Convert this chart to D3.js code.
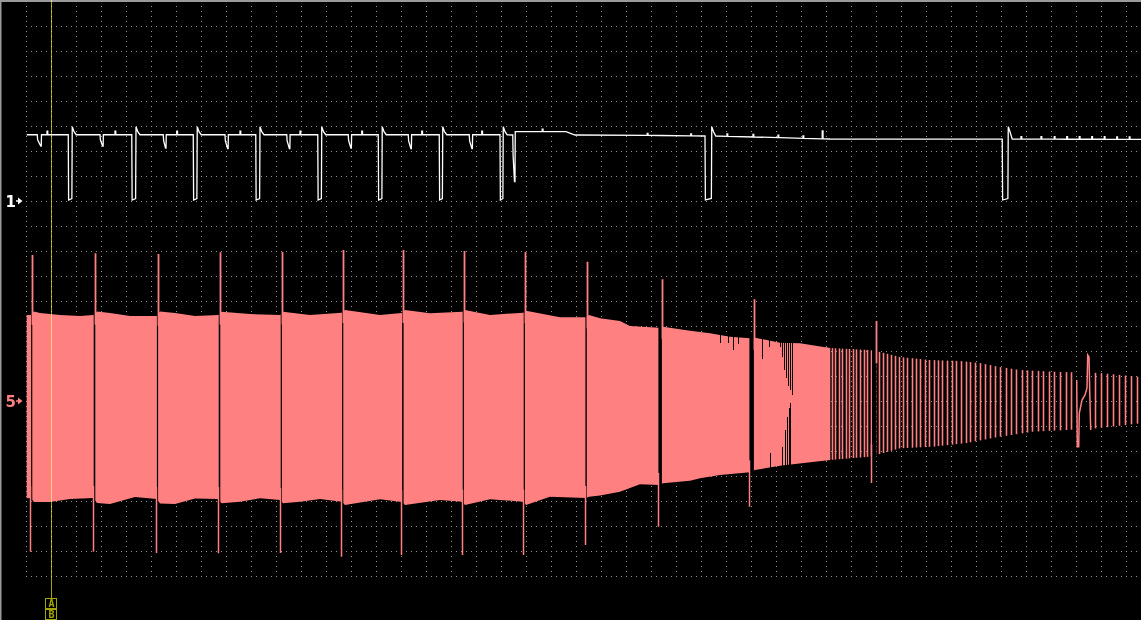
<!DOCTYPE html>
<html><head><meta charset="utf-8">
<script src="https://cdn.jsdelivr.net/npm/d3@7/dist/d3.min.js"></script>
<style>
html,body{margin:0;padding:0;background:#000;overflow:hidden;}
svg{display:block;}
</style></head>
<body>
<svg id="scope" width="1141" height="620"></svg>
<script>
// ================= DATA =================
const timebaseMsPerDiv = 20;
const recordMs = 892;
const verticalDivs = 23;
const ch1VoltsPerDiv = 5;
const ch5VoltsPerDiv = 20;
const ch1ZeroDiv = 15;
const ch5ZeroDiv = 7;
const channelLabels = ["1", "5"];

// ---- Channel 1 (white) ----
const ch1StartT = 0.56;
const ch1BaseT = [0, 381.8, 389.4, 391.4, 432, 439.2, 507.2, 543.2, 552, 603.2, 643.2, 892];
const ch1BaseV = [13.25, 13.25, 13.2, 13.86, 13.86, 13.2, 13.1, 13.0, 13.0, 12.66, 12.4, 12.34];
const ch1PulseFallT = [33.8, 84.6, 133.8, 183.8, 233.4, 281.8, 330.6, 379.2, 543.2, 781.0];
const ch1PulseRiseT = [37.0, 88.0, 137.0, 187.2, 236.6, 285.0, 333.4, 381.8, 548.6, 785.8];
const ch1PulseLowV = [0.2, 0.5];
const ch1OvershootV = 14.86;
const ch1DipT = [9.0, 59.2, 109.8, 159.2, 208.6, 257.8, 305.8, 354.6, 389.4];
const ch1DipMinV = [11.0, 11.0, 10.6, 10.5, 10.5, 10.6, 10.5, 10.5, 3.9];
const ch1DipWidthMs = [3.4, 2.7, 2.4, 2.7, 2.7, 2.7, 2.7, 2.7, 2.0];
const ch1TickT = [16.8, 71.2, 120.6, 171.2, 219.2, 268.6, 316.6, 364.6, 413.0, 497.0, 531.8,
                  560.8, 581.6, 601.6, 621.6, 637.0, 796, 812, 822.6, 832.6, 842.6, 852.6, 862.6, 872.6, 882.6];
const ch1TickV = [0.7, 0.7, 0.7, 0.7, 0.7, 0.7, 0.7, 0.7, 0.5, 0.4, 0.4,
                  0.5, 0.5, 0.5, 0.5, 1.6, 0.5, 0.5, 0.5, 0.5, 0.5, 0.5, 0.5, 0.5, 0.5];

// ---- Channel 5 (red) ----
const ch5TopT = [0.56, 3.76, 6.4, 11.2, 27.2, 43.2, 53.84, 56.8, 67.2, 83.2, 104.56, 107.2, 119.2, 135.2,
  153.84, 156.4, 179.2, 203.44, 205.6, 227.2, 252.56, 255.2, 283.2, 300.56, 303.2, 323.2, 349.04, 351.2,
  371.2, 397.84, 400, 427.2, 448, 450.4, 459.2, 475.2, 483.2, 506.4, 509.6, 531.2, 547.2, 563.2, 579.2,
  583.2, 603.2, 619.2, 643.2, 675.2, 683.2, 699.2, 723.2, 747.2, 763.2, 779.2, 795.2, 827.2, 859.2, 892];
const ch5TopV = [68.8, 68.8, 71.6, 70.4, 68.8, 68.0, 68.8, 71.6, 70.4, 68.0, 68.0, 71.6, 70.4, 68.0,
  68.8, 71.44, 69.6, 68.8, 71.44, 68.8, 70.64, 72.8, 68.8, 70.4, 72.8, 70.16, 71.44, 72.8,
  68.8, 70.64, 72.24, 66.96, 66.96, 68.8, 66.16, 64.0, 60.0, 58.64, 59.44, 56.24, 54.16, 51.44, 50.16,
  50.64, 46.64, 46.16, 42.4, 40.8, 39.2, 35.2, 32.8, 32.0, 30.4, 27.2, 24.8, 23.2, 22.4, 19.2];
const ch5BotT = [0.56, 3.76, 6.4, 19.2, 35.2, 53.84, 56.8, 67.2, 87.2, 104.56, 107.2, 119.2, 135.2,
  153.84, 156.4, 171.2, 187.2, 203.44, 205.6, 219.2, 235.2, 252.56, 255.2, 283.2, 300.56, 303.2, 331.2,
  349.04, 351.2, 371.2, 397.84, 400, 419.2, 448, 450.4, 459.2, 475.2, 491.2, 506.4, 509.6, 531.2, 539.2,
  555.2, 579.2, 583.2, 603.2, 643.2, 675.2, 699.2, 725.6, 752.8, 779.2, 805.6, 832.8, 859.2, 892];
const ch5BotV = [-77.84, -77.6, -80.8, -80.8, -78.4, -77.6, -81.6, -82.4, -76.8, -78.4, -82.0, -82.4, -78.0,
  -78.4, -81.84, -80.56, -77.84, -79.2, -81.84, -80.56, -78.4, -80.56, -83.2, -78.64, -80.8, -83.2, -79.2,
  -80.56, -83.2, -78.64, -80.56, -83.2, -76.56, -77.6, -76.56, -75.6, -72.56, -66.64, -67.2, -65.84, -63.76, -61.84,
  -59.2, -57.04, -55.2, -51.76, -47.2, -44.56, -37.84, -36.56, -33.6, -28.56, -24.56, -23.2, -21.6, -17.84];
const ch5SolidEndT = 643.2;     // oscillation still unresolved (solid band) up to here
const ch5CycleStartT = 640;
const ch5PeriodT = [643.2, 675.2, 699.2, 739.2, 779.2, 819.2, 859.2, 892];
const ch5PeriodMs = [2.64, 3.04, 3.36, 3.68, 4.16, 4.48, 4.8, 4.96];
const ch5SpikeDownT = [3.76, 53.84, 104.56, 153.84, 203.44, 252.56, 300.56, 349.04, 397.84, 447.2, 505.6, 578.4, 676.56];
const ch5SpikeUpT = [5.36, 55.76, 105.84, 155.76, 205.04, 254.16, 302.4, 350.64, 399.44, 448.96, 509.04, 582.64, 680.56];
const ch5SpikeMinV = [-120.6, -120.6, -121.6, -121.8, -121.6, -124.6, -123.2, -123.2, -123.2, -115.2, -100.6, -84.6, -65.6];
const ch5SpikeMaxV = [116.8, 118.2, 117.6, 119.0, 119.2, 120.8, 120.8, 120.0, 119.2, 111.4, 97.4, 81.4, 64.0];
const ch5GapTopT = [555.2, 561.84, 565.84, 569.84, 589.04, 594.64, 603.2, 605.04, 606.64, 608.56, 610.16, 611.76, 613.36];
const ch5GapTopV = [46.64, 46.64, 40.8, 45.6, 33.6, 42.96, 42.96, 34.96, 24.8, 18.16, 12.0, 8.8, 4.8];
const ch5GapBotT = [595.2, 605.36, 607.2, 608.8, 610.4, 612];
const ch5GapBotV = [-41.84, -36.56, -23.2, -12.56, -5.84, -1.84];
const ch5GlitchT = [840.56, 841.04, 842.16, 842.64, 844.8, 847.2, 848.8, 849.36, 850.4, 850.96, 851.76];
const ch5GlitchV = [16.8, -36.56, -36.56, -9.6, 0.8, 4.8, 10.4, 36.8, 35.2, 8.8, -23.2];

// ---- Cursors ----
const cursorAT = 20.2;
const cursorBT = 20.2;

// ================= SCALES =================
const svg = d3.select("#scope");
const W = 1141, H = 620;
const x = d3.scaleLinear().domain([0, recordMs]).range([26, 1141]);
const yDiv = d3.scaleLinear().domain([0, verticalDivs]).range([576, 1]);
const y1 = d3.scaleLinear()
  .domain([-ch1ZeroDiv * ch1VoltsPerDiv, (verticalDivs - ch1ZeroDiv) * ch1VoltsPerDiv]).range([576, 1]);
const y5 = d3.scaleLinear()
  .domain([-ch5ZeroDiv * ch5VoltsPerDiv, (verticalDivs - ch5ZeroDiv) * ch5VoltsPerDiv]).range([576, 1]);

const RED = "#ff8080", GRID = "#969696", CUR = "#a6a600";

svg.append("rect").attr("width", W).attr("height", H).attr("fill", "#000");

// ================= GRATICULE =================
const g = svg.append("g").attr("shape-rendering", "crispEdges");
const vTicks = d3.range(0, recordMs, timebaseMsPerDiv);
g.selectAll("line.v").data(vTicks).join("line")
  .attr("x1", d => Math.round(x(d)) + 0.5).attr("x2", d => Math.round(x(d)) + 0.5)
  .attr("y1", yDiv(verticalDivs)).attr("y2", yDiv(0) + 1)
  .attr("stroke", GRID).attr("stroke-width", 1).attr("stroke-dasharray", "1 4");
const hTicks = d3.range(0, verticalDivs);
g.selectAll("line.h").data(hTicks).join("line")
  .attr("y1", d => Math.round(yDiv(d)) + 0.5).attr("y2", d => Math.round(yDiv(d)) + 0.5)
  .attr("x1", x(0)).attr("x2", W)
  .attr("stroke", GRID).attr("stroke-width", 1).attr("stroke-dasharray", "1 4");

// frame
svg.append("rect").attr("x", 0).attr("y", 0).attr("width", W).attr("height", 2).attr("fill", "#9a9a9a");
svg.append("rect").attr("x", 0).attr("y", 0).attr("width", 1.5).attr("height", H).attr("fill", "#9a9a9a");

// ================= CHANNEL 5 =================
const top5 = d3.scaleLinear().domain(ch5TopT).range(ch5TopV);
const bot5 = d3.scaleLinear().domain(ch5BotT).range(ch5BotV);
const g5 = svg.append("g");

// solid (unresolved) part
const polyPts = ch5TopT.map((t, i) => [t, ch5TopV[i]]).filter(p => p[0] <= ch5SolidEndT)
  .concat(ch5BotT.map((t, i) => [t, ch5BotV[i]]).filter(p => p[0] <= ch5SolidEndT).reverse());
g5.append("path")
  .attr("d", d3.line().x(d => x(d[0])).y(d => y5(d[1]))(polyPts) + "Z")
  .attr("fill", RED).attr("stroke", "none");

// resolved oscillation cycles
const period5 = d3.scaleLinear().domain(ch5PeriodT).range(ch5PeriodMs).clamp(true);
const glitchStart = ch5GlitchT[0], glitchEnd = ch5GlitchT[ch5GlitchT.length - 1];
const cycles = [];
for (let t = ch5CycleStartT; t < recordMs; t += period5(t)) {
  if (t >= glitchStart - 0.3 && t <= glitchEnd + 0.3) continue;
  cycles.push(t);
}
g5.append("g").selectAll("line").data(cycles).join("line")
  .attr("x1", d => Math.floor(x(d)) + 0.5).attr("x2", d => Math.floor(x(d)) + 0.5)
  .attr("y1", d => y5(top5(d))).attr("y2", d => y5(bot5(d)))
  .attr("stroke", RED).attr("stroke-width", 1.6);

// aliasing gaps inside the solid band
const gaps = g5.append("g").attr("shape-rendering", "crispEdges");
gaps.selectAll("line.t").data(ch5GapTopT).join("line")
  .attr("x1", d => Math.floor(x(d)) + 0.5).attr("x2", d => Math.floor(x(d)) + 0.5)
  .attr("y1", d => y5(top5(d)) - 1).attr("y2", (d, i) => y5(ch5GapTopV[i]))
  .attr("stroke", "#000").attr("stroke-width", 1);
gaps.selectAll("line.b").data(ch5GapBotT).join("line")
  .attr("x1", d => Math.floor(x(d)) + 0.5).attr("x2", d => Math.floor(x(d)) + 0.5)
  .attr("y1", d => y5(bot5(d)) + 1).attr("y2", (d, i) => y5(ch5GapBotV[i]))
  .attr("stroke", "#000").attr("stroke-width", 1);

// spikes (black notch + red overshoots)
const spikes = ch5SpikeDownT.map((t, i) => ({
  down: t, up: ch5SpikeUpT[i], min: ch5SpikeMinV[i], max: ch5SpikeMaxV[i]
}));
g5.append("g").selectAll("line").data(spikes).join("line")
  .attr("x1", d => (x(d.down) + x(d.up)) / 2).attr("x2", d => (x(d.down) + x(d.up)) / 2)
  .attr("y1", d => y5(top5((d.down + d.up) / 2)) - 2).attr("y2", d => y5(bot5((d.down + d.up) / 2)) + 2)
  .attr("stroke", "#000").attr("stroke-width", d => Math.max(1.2, x(d.up) - x(d.down) - 0.8));
const sp = g5.append("g");
sp.selectAll("line.dn").data(spikes).join("line")
  .attr("x1", d => Math.floor(x(d.down)) + 0.5).attr("x2", d => Math.floor(x(d.down)) + 0.5)
  .attr("y1", d => y5(bot5(d.down)) - 12).attr("y2", d => y5(d.min))
  .attr("stroke", RED).attr("stroke-width", 1.5);
sp.selectAll("line.up").data(spikes).join("line")
  .attr("x1", d => Math.floor(x(d.up)) + 0.5).attr("x2", d => Math.floor(x(d.up)) + 0.5)
  .attr("y1", d => y5(top5(d.up)) + 12).attr("y2", d => y5(d.max))
  .attr("stroke", RED).attr("stroke-width", 1.8);

// glitch near the end
g5.append("path")
  .attr("d", d3.line().x(d => x(d[0])).y(d => y5(d[1]))(ch5GlitchT.map((t, i) => [t, ch5GlitchV[i]])))
  .attr("fill", "none").attr("stroke", RED).attr("stroke-width", 1.5);

// ================= CHANNEL 1 =================
const base1 = d3.scaleLinear().domain(ch1BaseT).range(ch1BaseV);
const events = [];
ch1PulseFallT.forEach((t, i) => events.push({ t, end: ch1PulseRiseT[i] + 3.2, kind: "pulse", i }));
ch1DipT.forEach((t, i) => events.push({ t, end: t + ch1DipWidthMs[i], kind: "dip", i }));
ch1TickT.forEach((t, i) => events.push({ t, end: t + 0.8, kind: "tick", i }));
ch1BaseT.forEach((t, i) => {
  if (!events.some(e => t >= e.t && t <= e.end)) events.push({ t, end: t, kind: "knot", i });
});
events.sort((a, b) => a.t - b.t);
const pts1 = [[ch1StartT, base1(ch1StartT)]];
for (const e of events) {
  if (e.t < ch1StartT || e.t > recordMs) continue;
  const b = base1(e.t);
  if (e.kind === "pulse") {
    const tr = ch1PulseRiseT[e.i];
    pts1.push([e.t, b], [e.t + 0.3, ch1PulseLowV[0]], [tr - 0.3, ch1PulseLowV[1]],
      [tr, ch1OvershootV], [tr + 1.4, ch1OvershootV - 1.0], [tr + 3.2, base1(tr + 3.2)]);
  } else if (e.kind === "dip") {
    const m = ch1DipMinV[e.i], w = ch1DipWidthMs[e.i];
    pts1.push([e.t, b], [e.t + 0.3, b - (b - m) * 0.45], [e.t + w - 0.6, m], [e.t + w - 0.2, m],
      [e.t + w, base1(e.t + w)]);
  } else if (e.kind === "tick") {
    const h = ch1TickV[e.i];
    pts1.push([e.t, b], [e.t, b + h], [e.t + 0.6, b + h], [e.t + 0.6, base1(e.t + 0.6)]);
  } else {
    pts1.push([e.t, b]);
  }
}
pts1.push([recordMs, base1(recordMs)]);
svg.append("path")
  .attr("d", d3.line().x(d => x(d[0])).y(d => y1(d[1]))(pts1))
  .attr("fill", "none").attr("stroke", "#fff").attr("stroke-width", 1.3)
  .attr("stroke-linejoin", "miter");

// ================= CHANNEL MARKERS =================
const markers = [
  { label: channelLabels[0], y: y1(0), color: "#ffffff" },
  { label: channelLabels[1], y: y5(0), color: RED }
];
const mk = svg.append("g").selectAll("g").data(markers).join("g");
mk.append("text").attr("x", 5.5).attr("y", d => d.y + 6)
  .attr("font-family", "'DejaVu Sans', sans-serif").attr("font-weight", "bold")
  .attr("font-size", 15).attr("fill", d => d.color).text(d => d.label);
mk.append("path")
  .attr("d", d => `M16,${d.y - 0.8}h2.5v1.6h-2.5Z M18,${d.y - 3.5}L22.5,${d.y}L18,${d.y + 3.5}Z`)
  .attr("fill", d => d.color);

// ================= CURSORS =================
const cur = svg.append("g");
const cx = Math.round(x(cursorAT)) + 0.5;
cur.append("line").attr("x1", cx).attr("x2", cx).attr("y1", 0).attr("y2", 598)
  .attr("stroke", CUR).attr("stroke-width", 1).attr("shape-rendering", "crispEdges")
  .style("mix-blend-mode", "screen");
const tags = [{ t: cursorAT, label: "A", y: 598 }, { t: cursorBT, label: "B", y: 609 }];
const tg = cur.selectAll("g").data(tags).join("g");
tg.append("rect").attr("x", d => Math.round(x(d.t)) - 5.5).attr("y", d => d.y + 0.5)
  .attr("width", 11).attr("height", 10).attr("fill", "#000")
  .attr("stroke", CUR).attr("stroke-width", 1).attr("shape-rendering", "crispEdges");
tg.append("text").attr("x", d => Math.round(x(d.t)) + 0.5).attr("y", d => d.y + 9)
  .attr("text-anchor", "middle").attr("font-family", "'DejaVu Sans Mono', monospace")
  .attr("font-weight", "bold").attr("font-size", 10).attr("fill", CUR).text(d => d.label);
</script>
</body></html>
